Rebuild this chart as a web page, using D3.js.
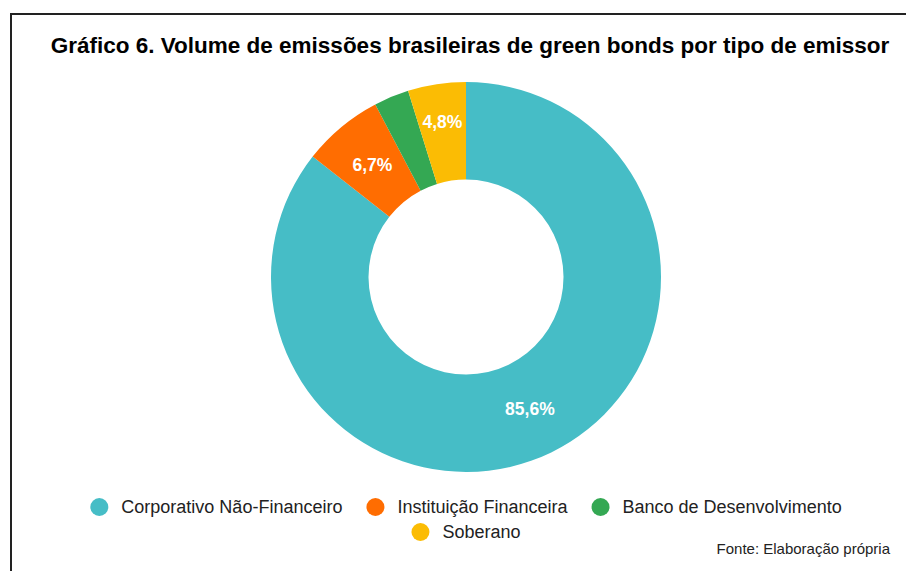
<!DOCTYPE html>
<html>
<head>
<meta charset="utf-8">
<script src="https://cdn.jsdelivr.net/npm/d3@7"></script>
<style>
  html, body { margin: 0; padding: 0; background: #fff; }
  svg { display: block; }
</style>
</head>
<body>
<svg id="chart" width="906" height="571"></svg>
<script>
const categories = ["Corporativo Não-Financeiro", "Instituição Financeira", "Banco de Desenvolvimento", "Soberano"];
const values = [85.6, 6.7, 2.9, 4.8];
const labels = ["85,6%", "6,7%", "", "4,8%"];
const colors = ["#46BDC6", "#FF6D01", "#34A853", "#FBBC04"];
const title = "Gráfico 6. Volume de emissões brasileiras de green bonds por tipo de emissor";
const source = "Fonte: Elaboração própria";

const svg = d3.select("#chart");
const font = "Arial, 'Liberation Sans', sans-serif";

// frame
svg.append("rect")
  .attr("x", 11).attr("y", 14)
  .attr("width", 906).attr("height", 600)
  .attr("fill", "#fff").attr("stroke", "#222").attr("stroke-width", 2);

svg.append("text")
  .attr("x", 470).attr("y", 53)
  .attr("text-anchor", "middle")
  .attr("font-family", font).attr("font-weight", "bold")
  .attr("font-size", 22.5).attr("fill", "#000")
  .text(title);

const cx = 466, cy = 277, R = 195, r = 97.5;
const pie = d3.pie().sort(null).value(d => d.v);
const data = categories.map((c, i) => ({ c, v: values[i], label: labels[i], color: colors[i] }));
const arcs = pie(data);
const arc = d3.arc().innerRadius(r).outerRadius(R);

const g = svg.append("g").attr("transform", `translate(${cx},${cy})`);
g.selectAll("path").data(arcs).join("path")
  .attr("d", arc)
  .attr("fill", d => d.data.color);

const midR = (r + R) / 2;
g.selectAll("text.lbl").data(arcs.filter(d => d.data.label)).join("text")
  .attr("class", "lbl")
  .each(function(d) {
    const a = (d.startAngle + d.endAngle) / 2;
    const span = (d.endAngle - d.startAngle) * midR;
    const rr = span < 50 ? midR + 11 : midR;
    d3.select(this)
      .attr("x", Math.sin(a) * rr)
      .attr("y", -Math.cos(a) * rr);
  })
  .attr("text-anchor", "middle")
  .attr("dominant-baseline", "central")
  .attr("font-family", font).attr("font-weight", "bold")
  .attr("font-size", 17.5).attr("fill", "#fff")
  .text(d => d.data.label);

// legend
const legendRows = [[0, 1, 2], [3]];
const rowY = [507, 532];
const itemGap = 24;
const lfs = 18;
legendRows.forEach((row, ri) => {
  const tmp = svg.append("g");
  const widths = row.map(i => {
    const t = tmp.append("text").attr("font-family", font).attr("font-size", lfs).text(categories[i]);
    return t.node().getComputedTextLength();
  });
  tmp.remove();
  const itemW = widths.map(w => 31 + w);
  const total = d3.sum(itemW) + itemGap * (row.length - 1);
  let x = 466 - total / 2;
  row.forEach((i, k) => {
    svg.append("circle")
      .attr("cx", x + 9).attr("cy", rowY[ri]).attr("r", 9)
      .attr("fill", colors[i]);
    svg.append("text")
      .attr("x", x + 31).attr("y", rowY[ri])
      .attr("dominant-baseline", "central")
      .attr("font-family", font).attr("font-size", lfs).attr("fill", "#222")
      .text(categories[i]);
    x += itemW[k] + itemGap;
  });
});

svg.append("text")
  .attr("x", 890).attr("y", 548)
  .attr("text-anchor", "end")
  .attr("dominant-baseline", "central")
  .attr("font-family", font).attr("font-size", 15).attr("fill", "#222")
  .text(source);
</script>
</body>
</html>
